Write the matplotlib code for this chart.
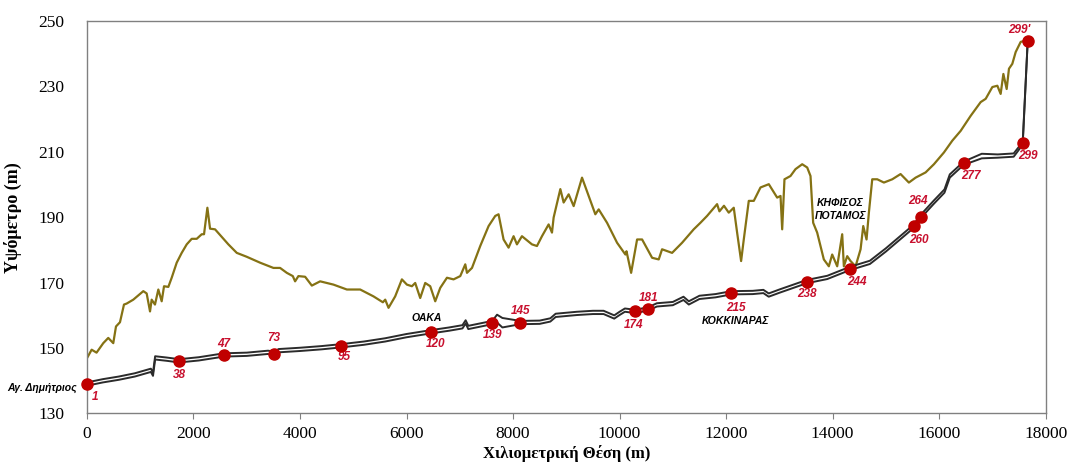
import matplotlib
matplotlib.use("Agg")
import matplotlib.pyplot as plt

# έδαφος (επιφάνεια)
ground_x = [0, 88, 180, 306, 400, 494, 545, 620, 695, 745, 870, 1058, 1121, 1184, 1215, 1277,
            1340, 1403, 1447, 1528, 1591, 1685, 1779, 1873, 1967, 2061, 2155, 2198, 2261, 2311,
            2405, 2531, 2655, 2813, 3001, 3251, 3501, 3626, 3752, 3865, 3908, 3970, 4096, 4222,
            4378, 4628, 4880, 5130, 5380, 5556, 5600, 5662, 5787, 5913, 6007, 6101, 6163, 6257,
            6351, 6445, 6539, 6633, 6759, 6883, 7009, 7103, 7135, 7229, 7384, 7541, 7666, 7728,
            7822, 7916, 8010, 8073, 8167, 8355, 8449, 8543, 8668, 8731, 8762, 8888, 8950, 9044,
            9138, 9295, 9420, 9545, 9608, 9765, 9953, 10109, 10130, 10217, 10329, 10423, 10611,
            10735, 10798, 10986, 11174, 11392, 11518, 11643, 11831, 11875, 11960, 12050, 12144,
            12207, 12282, 12332, 12426, 12520, 12646, 12802, 12959, 13022, 13053, 13096, 13209,
            13303, 13429, 13523, 13585, 13635, 13710, 13835, 13929, 13992, 14086, 14180, 14211,
            14274, 14337, 14431, 14525, 14575, 14637, 14681, 14744, 14838, 14963, 15120, 15276,
            15432, 15558, 15746, 15902, 16090, 16247, 16404, 16592, 16780, 16874, 16999, 17093,
            17155, 17206, 17268, 17311, 17374, 17437, 17531, 17600, 17663]
ground_y = [146.9, 149.5, 148.6, 151.5, 153.1, 151.5, 156.6, 157.9, 163.3, 163.6, 164.8, 167.4,
            166.7, 161.2, 164.8, 163.3, 167.9, 164.3, 168.9, 168.7, 171.5, 176.1, 179.1, 181.7,
            183.4, 183.4, 184.8, 184.8, 192.9, 186.5, 186.3, 184.0, 181.7, 179.1, 177.9, 176.1,
            174.5, 174.5, 173.0, 172.0, 170.4, 172.0, 171.8, 169.1, 170.4, 169.4, 167.9, 167.9,
            165.8, 164.0, 164.8, 162.3, 165.8, 171.0, 169.4, 168.9, 169.9, 165.3, 169.9, 168.9,
            164.3, 168.4, 171.5, 171.0, 172.0, 175.6, 173.0, 174.5, 181.2, 187.3, 190.4, 190.9,
            183.2, 180.7, 184.2, 181.7, 184.2, 181.7, 181.2, 184.2, 187.8, 185.3, 189.9, 198.6,
            194.5, 197.0, 193.4, 202.1, 196.5, 190.9, 192.4, 188.3, 182.2, 178.6, 179.6, 173.0,
            183.2, 183.2, 177.6, 177.1, 180.2, 179.1, 182.2, 186.3, 188.3, 190.4, 194.0, 191.8,
            193.5, 191.4, 192.9, 185.3, 176.6, 183.2, 195.0, 195.0, 199.1, 200.1, 196.0, 196.5,
            186.3, 201.6, 202.6, 204.7, 206.2, 205.2, 202.6, 188.3, 185.3, 177.1, 175.0, 178.6,
            175.0, 184.8, 175.0, 178.1, 176.6, 175.0, 180.2, 187.3, 183.2, 191.4, 201.6, 201.6,
            200.6, 201.6, 203.2, 200.6, 202.1, 203.7, 206.2, 209.8, 213.4, 216.4, 221.0, 225.2,
            226.2, 229.8, 230.2, 227.7, 233.8, 229.2, 235.4, 236.9, 240.5, 243.6, 243.9, 243.9]

# σήραγγα (δύο γραμμές)
tunnel_x = [0, 300, 600, 900, 1200, 1240, 1280, 1500, 1729, 2100, 2574, 3000, 3400, 3514, 3600,
            4000, 4400, 4773, 5200, 5600, 6000, 6464, 6800, 7050, 7110, 7160, 7400, 7610, 7700,
            7800, 8136, 8500, 8700, 8800, 9200, 9500, 9700, 9900, 10000, 10100, 10297, 10541,
            10700, 11000, 11200, 11300, 11500, 11800, 12101, 12500, 12700, 12800, 13000, 13510,
            13900, 14318, 14700, 15000, 15520, 15652, 15900, 16100, 16200, 16460, 16800, 17100,
            17400, 17569, 17663]
tunnel_top = [139.5, 140.5, 141.3, 142.3, 143.7, 142.5, 147.5, 147.1, 146.6, 147.2, 148.4, 148.6,
              149.2, 148.9, 149.7, 150.1, 150.6, 151.2, 152.0, 153.0, 154.3, 155.5, 156.3, 157.0,
              158.5, 156.8, 157.6, 158.3, 160.2, 159.2, 158.3, 158.4, 159.1, 160.5, 161.1, 161.4,
              161.4, 160.0, 161.1, 162.1, 161.7, 162.5, 163.7, 164.1, 165.7, 164.3, 166.0, 166.5,
              167.4, 167.5, 167.8, 166.7, 167.9, 170.8, 172.1, 174.8, 176.7, 180.5, 187.7, 190.7,
              195.1, 198.5, 203.1, 207.0, 209.4, 209.2, 209.5, 213.0, 243.9]
tunnel_bot = [138.5, 139.5, 140.3, 141.3, 142.7, 141.5, 146.5, 146.1, 145.6, 146.2, 147.4, 147.6,
              148.2, 147.9, 148.7, 149.1, 149.6, 150.2, 151.0, 152.0, 153.3, 154.5, 155.3, 156.0,
              157.5, 155.8, 156.6, 157.3, 157.8, 156.3, 157.3, 157.4, 158.1, 159.5, 160.1, 160.4,
              160.4, 159.0, 160.1, 161.1, 160.7, 161.5, 162.7, 163.1, 164.7, 163.3, 165.0, 165.5,
              166.4, 166.5, 166.8, 165.7, 166.9, 169.8, 171.1, 173.8, 175.7, 179.5, 186.7, 189.7,
              194.1, 197.5, 202.1, 206.0, 208.0, 208.2, 208.5, 212.2, 243.9]

# σταθμοί / φρεάτια
st_names = ["1", "38", "47", "73", "95", "120", "139", "145", "174", "181", "215", "238",
            "244", "260", "264", "277", "299", "299'"]
st_x = [0, 1729, 2574, 3514, 4773, 6464, 7610, 8136, 10297, 10541, 12101, 13510, 14318,
        15520, 15652, 16460, 17569, 17663]
st_y = [139.0, 146.1, 147.9, 148.3, 150.7, 155.0, 157.8, 157.8, 161.2, 162.0, 166.9, 170.3,
        174.3, 187.2, 190.2, 206.5, 212.6, 243.9]

# μετατόπιση ετικετών (points)
st_off = [(6, -9), (0, -10), (0, 8), (0, 11), (2, -8), (3, -9), (0, -9), (0, 8), (-1, -10),
          (0, 8), (3, -11), (0, -9), (5, -10), (4, -10), (-2, 11), (5, -9), (4, -9), (-6, 8)]

fig = plt.figure(figsize=(10.67, 4.66), dpi=100)
ax = fig.add_axes([0.0815, 0.1127, 0.8985, 0.8423])

ax.plot(ground_x, ground_y, color="#857214", lw=1.6, zorder=2)
ax.plot(tunnel_x, tunnel_top, color="#2b2b2b", lw=1.4, zorder=3)
ax.plot(tunnel_x, tunnel_bot, color="#2b2b2b", lw=1.4, zorder=3)
ax.plot(st_x, st_y, "o", color="#C00000", ms=8, zorder=5, clip_on=False)

for name, x, y, off in zip(st_names, st_x, st_y, st_off):
    ax.annotate(name, (x, y), xytext=off, textcoords="offset points", ha="center",
                va="center", color="#C8102E", fontsize=8.5, fontweight="bold",
                fontstyle="italic", family="Liberation Sans", annotation_clip=False)

lbl = dict(color="black", fontsize=7.5, fontweight="bold", fontstyle="italic",
           family="Liberation Sans", ha="center", va="center")
ax.text(6383, 159.3, "ΟΑΚΑ", **lbl)
ax.text(12175, 158.2, "ΚΟΚΚΙΝΑΡΑΣ", **lbl)
ax.text(14150, 192.4, "ΚΗΦΙΣΟΣ\nΠΟΤΑΜΟΣ", linespacing=1.4, **lbl)
ax.text(-190, 137.7, "Αγ. Δημήτριος", clip_on=False,
        **{**lbl, "ha": "right"})

ax.set_xlim(0, 18000)
ax.set_ylim(130, 250)
ax.set_xticks(range(0, 18001, 2000))
ax.set_yticks(range(130, 251, 20))
for s in ax.spines.values():
    s.set_color("#808080")
    s.set_linewidth(1.0)
ax.tick_params(axis="x", length=4, color="#808080", pad=5)
ax.tick_params(axis="y", length=0, pad=16)
for t in ax.get_xticklabels() + ax.get_yticklabels():
    t.set_family("Liberation Serif")
    t.set_fontsize(12.5)

ax.set_xlabel("Χιλιομετρική Θέση (m)", family="Liberation Serif", fontsize=12,
              fontweight="bold", labelpad=2)
ax.set_ylabel("Υψόμετρο (m)", family="Liberation Serif", fontsize=13,
              fontweight="bold", labelpad=12)

fig.savefig("out.png", dpi=100)
